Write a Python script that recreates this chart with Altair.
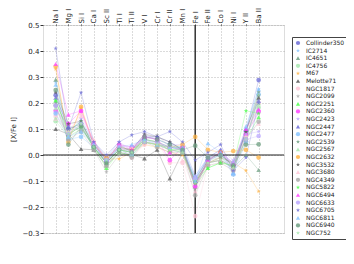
import altair as alt
import pandas as pd

elements = ["Na I", "Mg I", "Si I", "Ca I", "Sc II", "Ti I", "Ti II", "V I", "Cr I",
            "Cr II", "Mn I", "Fe I", "Fe II", "Co I", "Ni I", "Y II", "Ba II"]

clusters = ["Collinder350", "IC2714", "IC4651", "IC4756", "M67", "Melotte71", "NGC1817",
            "NGC2099", "NGC2251", "NGC2360", "NGC2423", "NGC2447", "NGC2477", "NGC2539",
            "NGC2567", "NGC2632", "NGC3532", "NGC3680", "NGC4349", "NGC5822", "NGC6494",
            "NGC6633", "NGC6705", "NGC6811", "NGC6940", "NGC752"]

# [X/Fe I] per cluster, in element order
Collinder350 = [0.23, 0.10, 0.12, 0.04, -0.02, 0.03, 0.02, 0.06, 0.05, 0.03, 0.02, -0.09, -0.02, 0.00, -0.04, 0.09, 0.288]
IC2714 = [0.28, 0.09, 0.13, 0.05, -0.01, 0.04, 0.03, 0.07, 0.06, 0.04, 0.03, -0.08, -0.01, 0.01, -0.03, 0.10, 0.253]
IC4651 = [0.29, 0.08, 0.11, 0.03, -0.03, 0.02, 0.01, 0.05, 0.04, 0.02, 0.01, -0.12, -0.03, -0.02, -0.05, 0.00, -0.058]
IC4756 = [0.13, 0.07, 0.10, 0.04, -0.02, 0.03, 0.02, 0.05, 0.04, 0.03, 0.03, -0.10, -0.01, 0.00, -0.03, 0.08, 0.183]
M67 = [0.33, 0.06, 0.18, 0.04, -0.015, -0.015, 0.01, 0.04, 0.03, 0.01, 0.00, -0.11, -0.03, -0.01, -0.03, -0.06, -0.14]
Melotte71 = [0.10, 0.08, 0.023, 0.02, -0.04, 0.01, 0.00, -0.013, 0.02, -0.09, 0.01, -0.10, -0.03, -0.02, -0.05, 0.06, 0.22]
NGC1817 = [0.15, 0.09, 0.16, 0.05, -0.03, 0.03, -0.01, 0.04, 0.05, -0.03, -0.03, -0.235, -0.04, -0.03, -0.06, 0.07, 0.20]
NGC2099 = [0.19, 0.07, 0.12, 0.02, -0.065, 0.00, 0.02, 0.06, 0.077, 0.03, 0.02, -0.13, -0.02, -0.01, -0.05, 0.08, 0.16]
NGC2251 = [0.21, 0.09, 0.13, 0.03, -0.05, 0.01, 0.00, 0.05, 0.04, 0.02, 0.02, -0.12, -0.05, -0.03, -0.04, 0.06, 0.145]
NGC2360 = [0.17, 0.12, 0.17, 0.04, -0.02, 0.04, 0.03, 0.07, 0.06, -0.02, 0.03, -0.12, -0.02, 0.01, -0.04, 0.08, 0.167]
NGC2423 = [0.16, 0.08, 0.14, 0.05, -0.01, 0.05, 0.02, 0.08, 0.06, 0.04, 0.04, -0.08, -0.01, 0.02, -0.02, 0.08, 0.09]
NGC2447 = [0.22, 0.11, 0.10, 0.04, -0.03, 0.03, 0.02, 0.07, 0.07, 0.05, 0.02, -0.10, -0.01, 0.02, -0.07, 0.10, 0.209]
NGC2477 = [0.16, 0.06, 0.07, 0.03, -0.02, 0.02, 0.00, 0.05, 0.04, 0.03, 0.02, -0.09, -0.02, 0.00, -0.075, 0.05, 0.233]
NGC2539 = [0.20, 0.10, 0.12, 0.05, -0.02, 0.04, 0.01, 0.06, 0.05, 0.03, 0.03, -0.11, -0.03, -0.01, -0.03, 0.09, 0.243]
NGC2567 = [0.18, 0.07, 0.10, 0.03, -0.04, 0.02, 0.01, 0.05, 0.04, 0.02, 0.01, -0.09, -0.02, 0.00, -0.04, 0.07, 0.199]
NGC2632 = [0.34, 0.05, 0.185, 0.04, -0.01, 0.03, 0.02, 0.05, 0.04, 0.03, 0.04, 0.07, 0.02, 0.01, 0.015, 0.02, -0.01]
NGC3532 = [0.24, 0.12, 0.13, 0.03, -0.03, 0.02, 0.02, 0.08, 0.07, 0.05, 0.02, -0.11, -0.02, 0.01, -0.05, 0.09, 0.229]
NGC3680 = [0.14, 0.09, 0.15, 0.06, -0.02, 0.04, 0.03, 0.06, 0.05, 0.02, -0.02, -0.14, -0.03, -0.02, -0.05, 0.07, 0.12]
NGC4349 = [0.19, 0.06, 0.09, 0.02, -0.04, 0.01, -0.01, 0.05, 0.03, 0.01, 0.01, -0.155, -0.04, -0.03, -0.06, 0.06, 0.128]
NGC5822 = [0.21, 0.08, 0.11, 0.03, -0.03, 0.02, 0.01, 0.06, 0.05, 0.02, 0.02, -0.10, -0.05, -0.03, -0.04, 0.17, 0.16]
NGC6494 = [0.35, 0.155, 0.17, 0.05, -0.02, 0.04, 0.02, 0.07, 0.06, 0.01, 0.03, -0.12, -0.02, 0.01, -0.03, 0.10, 0.176]
NGC6633 = [0.19, 0.08, 0.12, 0.04, -0.02, 0.03, 0.01, 0.05, 0.05, 0.03, 0.02, -0.09, -0.01, 0.00, -0.03, 0.06, 0.073]
NGC6705 = [0.41, 0.10, 0.24, 0.05, 0.00, 0.05, 0.077, 0.09, 0.07, 0.09, 0.05, -0.02, 0.01, 0.04, -0.06, -0.01, 0.20]
NGC6811 = [0.27, 0.07, 0.09, 0.04, -0.02, 0.03, 0.04, 0.06, 0.04, 0.03, 0.03, -0.10, 0.045, 0.01, -0.07, 0.11, 0.253]
NGC6940 = [0.25, 0.04, 0.11, 0.03, -0.03, 0.02, 0.01, 0.07, 0.06, 0.04, 0.02, 0.036, -0.01, 0.00, -0.04, 0.04, 0.041]
NGC752 = [0.14, 0.08, 0.12, 0.03, -0.02, 0.02, 0.01, 0.05, 0.04, 0.02, 0.01, -0.11, -0.03, -0.02, -0.05, 0.06, 0.23]

series = [Collinder350, IC2714, IC4651, IC4756, M67, Melotte71, NGC1817, NGC2099, NGC2251,
          NGC2360, NGC2423, NGC2447, NGC2477, NGC2539, NGC2567, NGC2632, NGC3532, NGC3680,
          NGC4349, NGC5822, NGC6494, NGC6633, NGC6705, NGC6811, NGC6940, NGC752]

y_ticks = [-0.3, -0.2, -0.1, 0.0, 0.1, 0.2, 0.3, 0.4, 0.5]

palette = ["#6b6bd6", "#88c4ff", "#6f9f82", "#a8e8b0", "#ffb446", "#555555",
           "#ffc8d8", "#aaaaaa", "#4cff4c", "#ff44ff", "#bba8ff"]
STAR = "M0,-1L0.23,-0.32L0.95,-0.31L0.37,0.12L0.59,0.81L0,0.39L-0.59,0.81L-0.37,0.12L-0.95,-0.31L-0.23,-0.32Z"
shape_cycle = ["circle", STAR, "triangle-up"]

colors = [palette[i % len(palette)] for i in range(len(clusters))]
shapes = [shape_cycle[i % 3] for i in range(len(clusters))]

rows = []
for name, vals in zip(clusters, series):
    for j, v in enumerate(vals):
        rows.append({"cluster": name, "pos": j + 1, "element": elements[j], "val": v})
df = pd.DataFrame(rows)

label_expr = "[" + ",".join("'" + e + "'" for e in elements) + "][datum.value - 1]"
fe_pos = elements.index("Fe I") + 1

xscale = alt.Scale(domain=[0, 19], nice=False, zero=False)
yscale = alt.Scale(domain=[-0.3, 0.5], nice=False, zero=False)
cscale = alt.Scale(domain=clusters, range=colors)
sscale = alt.Scale(domain=clusters, range=shapes)

xaxis = alt.Axis(orient="top", values=list(range(1, 18)), labelExpr=label_expr,
                 labelAngle=270, labelAlign="left", labelBaseline="middle",
                 labelFontSize=7, labelPadding=1, tickSize=1, title=None,
                 labelOverlap=False, labelBound=False, labelFlush=False,
                 grid=True, gridDash=[1, 2], gridColor="#999999", gridWidth=0.7,
                 domain=False, tickColor="#333333", labelColor="#222222")
yaxis = alt.Axis(values=y_ticks, format=".1f",
                 labelFontSize=7, tickSize=3, labelPadding=1, title="[X/Fe I]",
                 labelOverlap=False, labelFlush=False, labelBound=False,
                 titleFontSize=7, titleFontWeight="normal", titlePadding=6,
                 grid=True, gridDash=[1, 2], gridColor="#999999", gridWidth=0.7,
                 domain=False, tickColor="#333333", labelColor="#222222", titleColor="#222222")

legend = alt.Legend(title=None, orient="none", legendX=249, legendY=12,
                    labelFontSize=6, symbolSize=18, rowPadding=1.6, padding=3,
                    strokeColor="#444444", fillColor="white", labelLimit=80,
                    symbolStrokeWidth=0, symbolOpacity=0.85, labelOffset=5,
                    labelColor="#222222")

base = alt.Chart(df)

lines = base.mark_line(strokeWidth=0.8, opacity=0.35).encode(
    x=alt.X("pos:Q", scale=xscale, axis=xaxis),
    y=alt.Y("val:Q", scale=yscale, axis=yaxis),
    color=alt.Color("cluster:N", scale=cscale, legend=None),
    detail="cluster:N",
    order="pos:Q",
)

hline = alt.Chart(pd.DataFrame({"v": [0.0]})).mark_rule(color="#222222", strokeWidth=1.2).encode(
    y=alt.Y("v:Q", scale=yscale, axis=yaxis))
vline = alt.Chart(pd.DataFrame({"p": [fe_pos]})).mark_rule(color="#333333", strokeWidth=1.5).encode(
    x=alt.X("p:Q", scale=xscale, axis=xaxis))

points = base.mark_point(filled=True, size=22, opacity=0.75).encode(
    x=alt.X("pos:Q", scale=xscale, axis=xaxis),
    y=alt.Y("val:Q", scale=yscale, axis=yaxis),
    color=alt.Color("cluster:N", scale=cscale, legend=legend),
    shape=alt.Shape("cluster:N", scale=sscale, legend=legend),
)

chart = alt.layer(lines, hline, vline, points).resolve_legend(
    color="independent", shape="independent"
).properties(
    width=241, height=208,
    autosize=alt.AutoSizeParams(type="none"),
    padding={"left": 35, "top": 17, "right": 62, "bottom": 12},
).configure_view(stroke="#333333", strokeWidth=1.5).configure_axis(
    labelOverlap=False
).configure(
    font="DejaVu Sans"
)

chart.save("out.html", embed_options={"renderer": "svg", "actions": False})
